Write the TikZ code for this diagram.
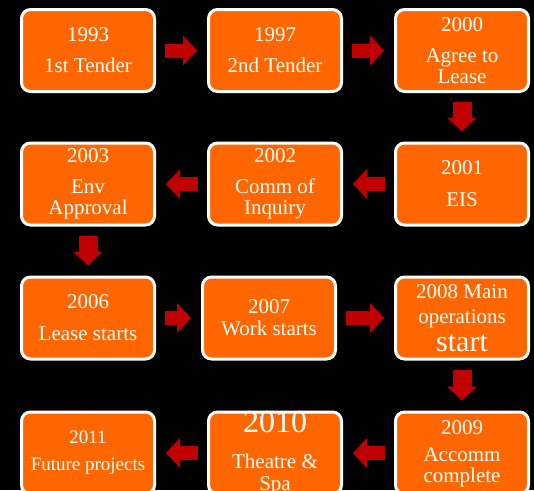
\documentclass[tikz,border=0pt]{standalone}
\usepackage{fontspec}
\setmainfont{Liberation Serif}
\usetikzlibrary{arrows.meta}
\definecolor{boxorange}{HTML}{FF6600}
\definecolor{arrowred}{HTML}{C00000}

\begin{document}
\begin{tikzpicture}[x=1pt, y=-1pt,
        stage/.style={rectangle, rounded corners=9pt, draw=white, line width=3pt, fill=boxorange,
            minimum width=133pt, minimum height=82pt, inner sep=0pt, text width=130pt, align=flush center,
            text=white, font=\fontsize{21}{21}\selectfont},
        flow/.style={draw=arrowred, line width=14pt, -{Triangle[length=14pt, width=30pt, line width=0pt]},
            shorten <=9pt, shorten >=10pt},
        drop/.style={flow, line width=19pt}]
            \path[use as bounding box, fill=black] (0,0) rectangle (534,490);
            \node[stage] (b1993) at (88,50.5) {1993\\[10pt]1st Tender};
            \node[stage] (b1997) at (275,50.5) {1997\\[10pt]2nd Tender};
            \node[stage] (b2000) at (462,50.5) {2000\\[10pt]Agree to\\Lease};
            \node[stage] (b2001) at (462,184) {2001\\[11pt]EIS};
            \node[stage] (b2002) at (275,184) {2002\\[10pt]Comm of\\Inquiry};
            \node[stage] (b2003) at (88,184) {2003\\[10pt]Env\\Approval};
            \node[stage] (b2006) at (88,318) {2006\\[11pt]Lease starts};
            \node[stage] (b2007) at (269,318) {2007\\[1pt]Work starts};
            \node[stage] (b2008) at (462,318) {2008 Main\\[4pt]operations\\[5pt]{\fontsize{30}{30}\selectfont start}};
            \node[stage, text height=14pt, text depth=52pt] (b2009) at (462,453) {2009\\[6pt]Accomm\\complete};
            \node[stage, text height=20pt, text depth=62pt] (b2010) at (275,453) {{\fontsize{32}{32}\selectfont 2010}\\[15pt]Theatre \&\\[1pt]Spa};
            \node[stage, font=\fontsize{19}{19}\selectfont] (b2011) at (88,453) {2011\\[8pt]Future projects};
            \foreach \from/\to in {b1993/b1997, b1997/b2000, b2001/b2002, b2002/b2003,
                b2006/b2007, b2007/b2008, b2009/b2010, b2010/b2011}
            {
                \draw[flow] (\from) -- (\to);
            }
            \foreach \from/\to in {b2000/b2001, b2003/b2006, b2008/b2009}
            {
                \draw[drop] (\from) -- (\to);
            }
        \end{tikzpicture}
\end{document}
